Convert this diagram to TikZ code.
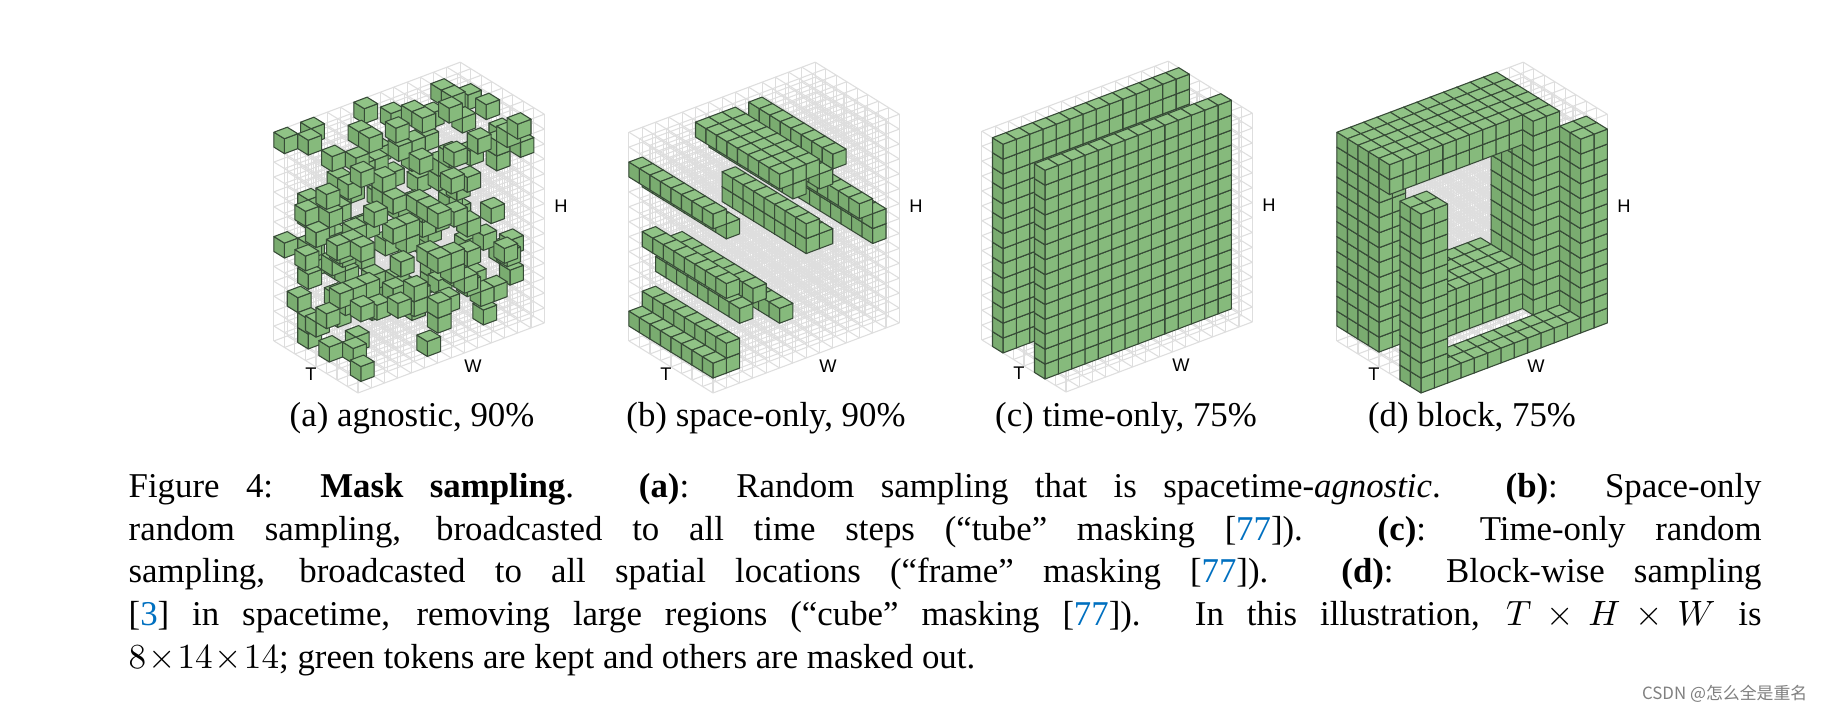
\documentclass[tikz,border=0pt]{standalone}
\usepackage{fontspec}
\setmainfont{Liberation Serif}
\newfontfamily\labsans{Liberation Sans}
\newfontfamily\cjkfont{Noto Sans CJK SC}
\definecolor{gfront}{RGB}{134,186,124}
\definecolor{gtop}{RGB}{144,195,134}
\definecolor{gside}{RGB}{122,172,112}
\definecolor{gedge}{RGB}{55,75,55}
\definecolor{gridc}{RGB}{222,222,222}
\definecolor{citec}{RGB}{0,112,192}
\newif\ifkeep
\makeatletter
\newcommand\testin[2]{\edef\tmpa{\noexpand\in@{,#1,}{#2}}\tmpa\ifin@\keeptrue\fi}
\makeatother
\newcommand\inbox[6]{\ifnum\vt<#1\relax\else\ifnum\vt>#2\relax\else\ifnum\vw<#3\relax\else\ifnum\vw>#4\relax\else\ifnum\vh<#5\relax\else\ifnum\vh>#6\relax\else\keeptrue\fi\fi\fi\fi\fi\fi}
\newcommand\testA{\pgfmathtruncatemacro\rr{rnd<0.1}\ifnum\rr=1\relax\keeptrue\fi}
\newcommand\testB{\testin{\vh-\vw}{,11-0,10-1,12-5,12-6,11-6,12-7,11-8,12-9,8-7,7-7,7-8,8-11,7-12,6-12,6-1,5-3,4-2,3-5,1-0,1-1,2-1,}}
\newcommand\testC{\ifnum\vt=2\relax\keeptrue\fi\ifnum\vt=6\relax\keeptrue\fi}
\newcommand\testD{\inbox{0}{1}{0}{1}{0}{11}\inbox{0}{1}{12}{13}{0}{12}\inbox{0}{1}{2}{11}{0}{0}\inbox{3}{7}{0}{11}{12}{13}\inbox{4}{7}{0}{1}{1}{11}\inbox{2}{5}{10}{11}{1}{13}\inbox{3}{6}{3}{9}{1}{3}}
\newcommand\cubeat[3]{% w h t
 \filldraw[cubeface,fill=gfront] (#1,#2,#3) -- ++(1,0,0) -- ++(0,1,0) -- ++(-1,0,0) -- cycle;
 \filldraw[cubeface,fill=gside] (#1,#2,#3) -- ++(0,0,1) -- ++(0,1,0) -- ++(0,0,-1) -- cycle;
 \filldraw[cubeface,fill=gtop] (#1,#2+1,#3) -- ++(1,0,0) -- ++(0,0,1) -- ++(-1,0,0) -- cycle;}
\newcommand\volume[4]{% #1 Ox #2 Oy (image px, y down) #3 test macro #4 name
 \begin{scope}[shift={(#1,713-#2)},x={(0.133cm,0.05cm)},y={(0,0.149cm)},z={(-0.105cm,0.065cm)}]
  \foreach \a in {0,...,8}{\foreach \b in {0,...,14}{\draw[gridline] (0,\b,\a) -- (14,\b,\a); \draw[gridline] (\b,0,\a) -- (\b,14,\a);}}
  \foreach \a in {0,...,14}{\foreach \b in {0,...,14}{\draw[gridline] (\a,\b,0) -- (\a,\b,8);}}
  \foreach \vt in {7,...,0}{\foreach \vw in {13,...,0}{\foreach \vh in {0,...,13}{\keepfalse #3\ifkeep\cubeat{\vw}{\vh}{\vt}\fi}}}
 \end{scope}
 \node[axlab] (#4T) at (#1-47,713-#2+19) {T};
 \node[axlab] (#4W) at (#1+115,713-#2+27) {W};
 \node[axlab] (#4H) at (#1+203,713-#2+187) {H};}
\begin{document}
\begin{tikzpicture}[x=0.01cm,y=0.01cm,
  cubeface/.style={draw=gedge,line width=0.3pt,line join=round},
  gridline/.style={draw=gridc,line width=0.3pt},
  axlab/.style={font=\labsans\fontsize{5.2}{6}\selectfont,inner sep=0pt},
  sublab/.style={font=\fontsize{9.9}{12}\selectfont,inner sep=0pt}]
\useasboundingbox (0,0) rectangle (1821,713);
\fill[white] (0,0) rectangle (1821,713);
\pgfmathsetseed{11}
\volume{358}{393}{\testA}{a}
\volume{713}{393}{\testB}{b}
\volume{1066}{392}{\testC}{c}
\volume{1421}{393}{\testD}{d}
\node[sublab] (ca) at (412,295) {(a) agnostic, 90\%};
\node[sublab] (cb) at (766,295) {(b) space-only, 90\%};
\node[sublab] (cc) at (1126,295) {(c) time-only, 75\%};
\node[sublab] (cd) at (1472,295) {(d) block, 75\%};
\node[anchor=north west,inner sep=0pt,text width=16.32cm,align=justify,font=\fontsize{9.9}{12.1}\selectfont] (cap) at (128,240)
{Figure 4: \textbf{Mask sampling}. \textbf{(a)}: Random sampling that is spacetime-\textit{agnostic}. \textbf{(b)}: Space-only\linebreak{} random sampling, broadcasted to all time steps (“tube” masking [\textcolor{citec}{77}]). \textbf{(c)}: Time-only random\linebreak{} sampling, broadcasted to all spatial locations (“frame” masking [\textcolor{citec}{77}]). \textbf{(d)}: Block-wise sampling\linebreak{} {[}\textcolor{citec}{3}] in spacetime, removing large regions (“cube” masking [\textcolor{citec}{77}]). In this illustration, $T\!\times\! H\!\times\! W$ is\linebreak{} $8\!\times\!14\!\times\!14$; green tokens are kept and others are masked out.};
\node[anchor=east,inner sep=0pt,text=gray,font=\cjkfont\fontsize{4.8}{5}\selectfont] (wm) at (1808,19) {CSDN @怎么全是重名};
\end{tikzpicture}
\end{document}
